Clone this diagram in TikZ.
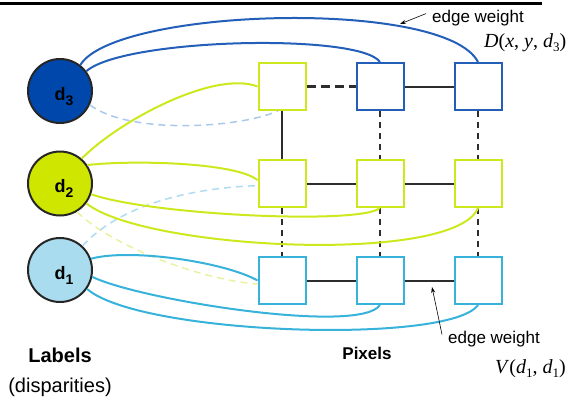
\documentclass[tikz,border=0pt]{standalone}
\usepackage{fontspec}
\setmainfont{Liberation Sans}
\newfontfamily\timesf{Liberation Serif}
\usetikzlibrary{arrows.meta}
\definecolor{dthree}{RGB}{0,71,171}
\definecolor{cblue}{RGB}{35,95,185}
\definecolor{dtwo}{RGB}{206,230,0}
\definecolor{cyel}{RGB}{206,232,30}
\definecolor{done}{RGB}{168,220,238}
\definecolor{clb}{RGB}{55,178,218}
\definecolor{pblue}{RGB}{170,200,235}
\definecolor{pyel}{RGB}{232,242,160}
\definecolor{plb}{RGB}{175,220,242}
\definecolor{gline}{RGB}{45,45,45}
\begin{document}
\begin{tikzpicture}[x=1pt,y=-1pt,
  sq/.style={draw, line width=2pt, fill=white, minimum size=47pt, inner sep=0pt},
  lab/.style={circle, draw=black!85, line width=2pt, minimum size=64pt, inner sep=0pt,
    text height=18pt, text depth=0pt, font=\bfseries\fontsize{18}{18}\selectfont},
  cv/.style={line width=2pt},
  pd/.style={line width=1.5pt, dash pattern=on 7pt off 5pt},
  gridline/.style={draw=gline, line width=2pt},
  gdash/.style={gridline, line width=2.5pt, dash pattern=on 6pt off 5pt},
  txt/.style={inner sep=0pt},
  arr/.style={draw=black, line width=0.6pt, -{Stealth[length=6pt,width=4pt]}}
]
\useasboundingbox (0,0) rectangle (573,399);
\draw[line width=3pt] (0,3) -- (542,3);

% label circles
\node[lab, fill=dthree] (d3) at (60,91) {\hspace*{8pt}d\raisebox{-5pt}{\fontsize{14}{14}\selectfont 3}};
\node[lab, fill=dtwo] (d2) at (60,183.5) {\hspace*{8pt}d\raisebox{-5pt}{\fontsize{14}{14}\selectfont 2}};
\node[lab, fill=done] (d1) at (60,270) {\hspace*{8pt}d\raisebox{-5pt}{\fontsize{14}{14}\selectfont 1}};

% pixel squares
\node[sq, draw=cyel] (r3c1) at (282,86.5) {};
\node[sq, draw=cblue] (r3c2) at (380,86.5) {};
\node[sq, draw=cblue] (r3c3) at (478,86.5) {};
\node[sq, draw=cyel] (r2c1) at (282,183.5) {};
\node[sq, draw=cyel] (r2c2) at (380,183.5) {};
\node[sq, draw=cyel] (r2c3) at (478,183.5) {};
\node[sq, draw=clb] (r1c1) at (282,280.5) {};
\node[sq, draw=clb] (r1c2) at (380,280.5) {};
\node[sq, draw=clb] (r1c3) at (478,280.5) {};

% grid connections
\draw[gridline, line width=3pt, dash pattern=on 9pt off 5pt] (r3c1) -- (r3c2);
\draw[gridline] (r3c2) -- (r3c3);
\draw[gridline] (r2c1) -- (r2c2);
\draw[gridline] (r2c2) -- (r2c3);
\draw[gridline] (r1c1) -- (r1c2);
\draw[gridline] (r1c2) -- (r1c3);
\draw[gridline] (r3c1) -- (r2c1);
\draw[gdash] (r2c1) -- (r1c1);
\draw[gdash] (r3c2) -- (r2c2);
\draw[gdash] (r2c2) -- (r1c2);
\draw[gdash] (r3c3) -- (r2c3);
\draw[gdash] (r2c3) -- (r1c3);

% pale dashed connections
\draw[pd, draw=pblue] (d3.-25) .. controls (130,135) and (240,128) .. (r3c1.260);
\draw[pd, draw=pyel] (d2.-59) .. controls (110,245) and (200,280) .. (r1c1.188);
\draw[pd, draw=plb] (d1.47) .. controls (120,205) and (190,188) .. (r2c1.185);

% d3 connections
\draw[cv, draw=cblue] (d3.52) .. controls (115,8) and (445,-2) .. (r3c3.north);
\draw[cv, draw=cblue] (d3.37) .. controls (125,38) and (360,33) .. (r3c2.north);
% d2 connections
\draw[cv, draw=cyel] (d2.49) .. controls (120,120) and (215,70) .. (r3c1.west);
\draw[cv, draw=cyel] (d2.34) .. controls (130,160) and (235,162) .. (r2c1.172);
\draw[cv, draw=cyel] (d2.-19) .. controls (150,215) and (360,225) .. (r2c2.south);
\draw[cv, draw=cyel] (d2.-37) .. controls (145,250) and (455,265) .. (r2c3.south);
% d1 connections
\draw[cv, draw=clb] (d1.20) .. controls (130,248) and (225,262) .. (r1c1.west);
\draw[cv, draw=clb] (d1.-12) .. controls (140,300) and (360,335) .. (r1c2.south);
\draw[cv, draw=clb] (d1.-35) .. controls (140,335) and (450,345) .. (r1c3.south);

% texts
\node[txt, anchor=base west, font=\fontsize{17}{17}\selectfont] (ewtop) at (432,22) {edge weight};
\node[txt, anchor=base west, font=\timesf\fontsize{20}{20}\selectfont] (dfun) at (484,47)
  {\textit{D}(\textit{x}, \textit{y}, \textit{d}\raisebox{-4pt}{\fontsize{13}{13}\selectfont 3})};
\node[txt, anchor=base west, font=\fontsize{17}{17}\selectfont] (ewbot) at (448,343) {edge weight};
\node[txt, anchor=base west, font=\timesf\fontsize{20}{20}\selectfont] (vfun) at (495,373)
  {\textit{V}(\textit{d}\raisebox{-4pt}{\fontsize{13}{13}\selectfont 1}, \textit{d}\raisebox{-4pt}{\fontsize{13}{13}\selectfont 1})};
\node[txt, anchor=base, font=\bfseries\fontsize{20}{20}\selectfont] (labels) at (60,362) {Labels};
\node[txt, anchor=base, font=\fontsize{20}{20}\selectfont] (disp) at (60,392) {(disparities)};
\node[txt, anchor=base, font=\bfseries\fontsize{17}{17}\selectfont] (pixels) at (367,359) {Pixels};

% arrows
\coordinate (tip1) at (400,24);
\coordinate (tip2) at (432,287);
\draw[arr] ([xshift=-6pt,yshift=4pt]ewtop.west) -- (tip1);
\draw[arr] ([xshift=-6pt,yshift=-4pt]ewbot.north west) -- (tip2);
\end{tikzpicture}
\end{document}
